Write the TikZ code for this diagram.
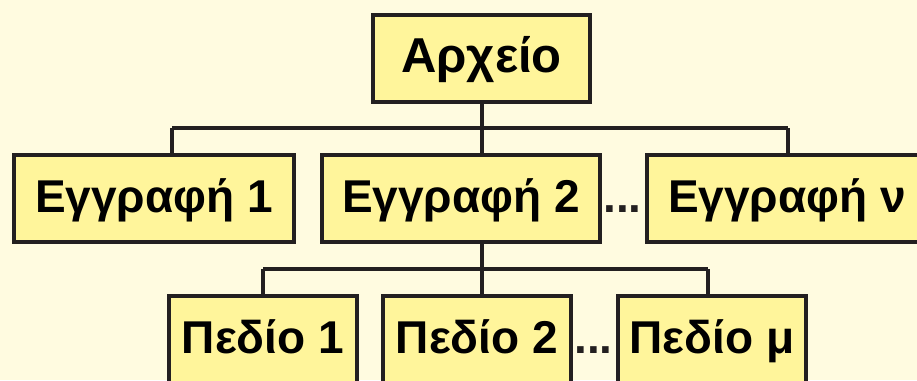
\documentclass[tikz,border=0pt]{standalone}
\usepackage{fontspec}
\setmainfont{Liberation Sans}
\usepackage{tikz}
\usetikzlibrary{calc}
\definecolor{bgcream}{RGB}{255,251,224}
\definecolor{boxyellow}{RGB}{255,245,155}
\definecolor{linedark}{RGB}{35,31,32}
\begin{document}
\begin{tikzpicture}[x=1pt,y=-1pt,
        box/.style={draw=linedark, line width=4pt, fill=boxyellow, inner sep=0pt,
            minimum height=87pt, text height=37pt, text depth=9pt,
            font=\fontsize{46}{52}\selectfont\bfseries},
        dotsmark/.style={anchor=base, inner sep=0pt, font=\fontsize{46}{52}\selectfont\bfseries},
        link/.style={draw=linedark, line width=4pt}]
        \fill[bgcream] (0,0) rectangle (917,380);
        \useasboundingbox (0,0) rectangle (917,380);
        \clip (0,0) rectangle (917,380);
        % file
        \node[box, minimum width=217pt, font=\fontsize{49}{55}\selectfont\bfseries] (file) at (481.5,58.5) {Αρχείο};
        % records
        \node[box, minimum width=280pt] (rec1) at (154,198) {Εγγραφή 1};
        \node[box, minimum width=278pt] (rec2) at (461,198) {Εγγραφή 2};
        \node[box, minimum width=280pt] (recn) at (787,198) {Εγγραφή ν};
        \node[dotsmark, text=linedark] (dots1) at (622.5,212) {...};
        % fields
        \foreach \name/\x/\lbl in {fld1/263/Πεδίο 1, fld2/477/Πεδίο 2, fldm/712/Πεδίο μ}{
        \node[box, minimum width=188pt] (\name) at (\x,339) {\lbl};
        }
        \node[dotsmark, text=linedark] (dots2) at (593.5,353) {...};
        % connectors
        \coordinate (r1) at (172,128);
        \coordinate (rn) at (788,128);
        \coordinate (f1) at (fld1.north |- 0,269);
        \coordinate (fm) at (708,269);
        \draw[link] (file.south) -- (file.south |- r1);
        \draw[link] (r1) -- (rn);
        \draw[link] (r1) -- (r1 |- rec1.north);
        \draw[link] (file.south |- r1) -- (file.south |- rec2.north);
        \draw[link] (rn) -- (rn |- recn.north);
        \draw[link] (file.south |- rec2.south) -- (file.south |- fld2.north);
        \draw[link] (f1) -- (fm);
        \draw[link] (f1) -- (fld1.north);
        \draw[link] (fm) -- (fm |- fldm.north);
\end{tikzpicture}
\end{document}
